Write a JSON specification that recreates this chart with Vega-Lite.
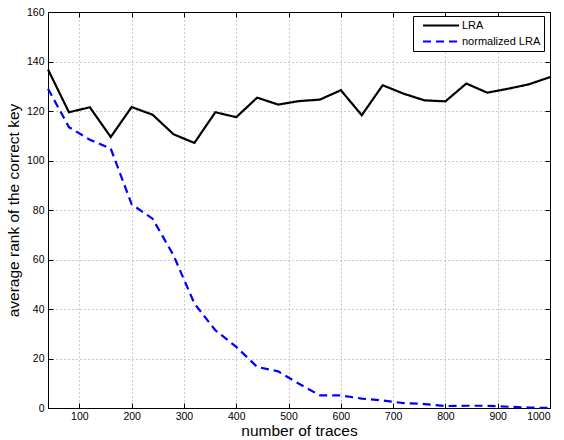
{
  "$schema": "https://vega.github.io/schema/vega-lite/v6.json",
  "width": 502,
  "height": 396,
  "autosize": {"type": "none"},
  "padding": {"left": 48, "top": 12, "right": 14, "bottom": 32},
  "background": "white",
  "config": {
    "font": "Liberation Sans",
    "view": {"stroke": "black", "strokeWidth": 1},
    "axis": {
      "domainColor": "black",
      "tickColor": "black",
      "tickSize": -5,
      "labelColor": "black",
      "titleColor": "black",
      "labelFontSize": 10.5,
      "titleFontSize": 15.5,
      "titleFontWeight": "normal",
      "gridColor": "#999999",
      "gridDash": [1, 3],
      "gridOpacity": 1,
      "gridWidth": 1
    }
  },
  "data": {
    "values": [
      {"traces": 40, "series": "LRA", "rank": 136.8},
      {"traces": 80, "series": "LRA", "rank": 119.5},
      {"traces": 120, "series": "LRA", "rank": 121.5},
      {"traces": 160, "series": "LRA", "rank": 109.5},
      {"traces": 200, "series": "LRA", "rank": 121.6},
      {"traces": 240, "series": "LRA", "rank": 118.5},
      {"traces": 280, "series": "LRA", "rank": 110.6},
      {"traces": 320, "series": "LRA", "rank": 107.1},
      {"traces": 360, "series": "LRA", "rank": 119.5},
      {"traces": 400, "series": "LRA", "rank": 117.5},
      {"traces": 440, "series": "LRA", "rank": 125.4},
      {"traces": 480, "series": "LRA", "rank": 122.6},
      {"traces": 520, "series": "LRA", "rank": 124.0},
      {"traces": 560, "series": "LRA", "rank": 124.6},
      {"traces": 600, "series": "LRA", "rank": 128.4},
      {"traces": 640, "series": "LRA", "rank": 118.3},
      {"traces": 680, "series": "LRA", "rank": 130.4},
      {"traces": 720, "series": "LRA", "rank": 127.0},
      {"traces": 760, "series": "LRA", "rank": 124.3},
      {"traces": 800, "series": "LRA", "rank": 123.9},
      {"traces": 840, "series": "LRA", "rank": 131.1},
      {"traces": 880, "series": "LRA", "rank": 127.4},
      {"traces": 920, "series": "LRA", "rank": 129.0},
      {"traces": 960, "series": "LRA", "rank": 130.8},
      {"traces": 1000, "series": "LRA", "rank": 133.7},
      {"traces": 40, "series": "normalized LRA", "rank": 129.0},
      {"traces": 80, "series": "normalized LRA", "rank": 113.5},
      {"traces": 120, "series": "normalized LRA", "rank": 108.4},
      {"traces": 160, "series": "normalized LRA", "rank": 104.8},
      {"traces": 200, "series": "normalized LRA", "rank": 82.3},
      {"traces": 240, "series": "normalized LRA", "rank": 76.5},
      {"traces": 280, "series": "normalized LRA", "rank": 61.7},
      {"traces": 320, "series": "normalized LRA", "rank": 42.2},
      {"traces": 360, "series": "normalized LRA", "rank": 31.4},
      {"traces": 400, "series": "normalized LRA", "rank": 24.7},
      {"traces": 440, "series": "normalized LRA", "rank": 16.6},
      {"traces": 480, "series": "normalized LRA", "rank": 14.8},
      {"traces": 520, "series": "normalized LRA", "rank": 9.8},
      {"traces": 560, "series": "normalized LRA", "rank": 5.1},
      {"traces": 600, "series": "normalized LRA", "rank": 5.1},
      {"traces": 640, "series": "normalized LRA", "rank": 3.8},
      {"traces": 680, "series": "normalized LRA", "rank": 3.0},
      {"traces": 720, "series": "normalized LRA", "rank": 2.0},
      {"traces": 760, "series": "normalized LRA", "rank": 1.6},
      {"traces": 800, "series": "normalized LRA", "rank": 0.8},
      {"traces": 840, "series": "normalized LRA", "rank": 0.9},
      {"traces": 880, "series": "normalized LRA", "rank": 0.9},
      {"traces": 920, "series": "normalized LRA", "rank": 0.5},
      {"traces": 960, "series": "normalized LRA", "rank": 0.2},
      {"traces": 1000, "series": "normalized LRA", "rank": 0.0}
    ]
  },
  "resolve": {"axis": {"x": "independent", "y": "independent"}},
  "layer": [
    {
      "mark": {"type": "line", "strokeWidth": 2.2},
      "encoding": {
        "x": {
          "field": "traces", "type": "quantitative",
          "scale": {"domain": [40, 1000], "nice": false, "zero": false},
          "axis": {
            "orient": "bottom",
            "values": [100, 200, 300, 400, 500, 600, 700, 800, 900, 1000],
            "format": "d",
            "title": "number of traces",
            "grid": true,
            "labelPadding": 8.5,
            "titlePadding": 1.5
          }
        },
        "y": {
          "field": "rank", "type": "quantitative",
          "scale": {"domain": [0, 160], "nice": false},
          "axis": {
            "orient": "left",
            "values": [0, 20, 40, 60, 80, 100, 120, 140, 160],
            "format": "d",
            "title": "average rank of the correct key",
            "grid": true,
            "labelPadding": 9,
            "titlePadding": 5
          }
        },
        "color": {
          "field": "series", "type": "nominal",
          "scale": {"domain": ["LRA", "normalized LRA"], "range": ["#000000", "#0000ff"]},
          "legend": {
            "title": null,
            "orient": "none",
            "legendX": 365,
            "legendY": 4,
            "fillColor": "white",
            "strokeColor": "black",
            "padding": 3,
            "symbolType": "stroke",
            "symbolSize": 1296,
            "symbolStrokeWidth": 2,
            "symbolOffset": 6,
            "clipHeight": 13,
            "labelFontSize": 11,
            "labelColor": "black",
            "rowPadding": 3,
            "labelOffset": 2
          }
        },
        "strokeDash": {
          "field": "series", "type": "nominal",
          "scale": {"domain": ["LRA", "normalized LRA"], "range": [[1, 0], [8, 5]]},
          "legend": null
        }
      }
    },
    {
      "mark": {"type": "point", "opacity": 0},
      "encoding": {
        "x": {
          "field": "traces", "type": "quantitative",
          "axis": {
            "orient": "top",
            "values": [100, 200, 300, 400, 500, 600, 700, 800, 900, 1000],
            "labels": false, "title": null, "grid": false
          }
        },
        "y": {
          "field": "rank", "type": "quantitative",
          "axis": {
            "orient": "right",
            "values": [0, 20, 40, 60, 80, 100, 120, 140, 160],
            "labels": false, "title": null, "grid": false
          }
        }
      }
    }
  ]
}
